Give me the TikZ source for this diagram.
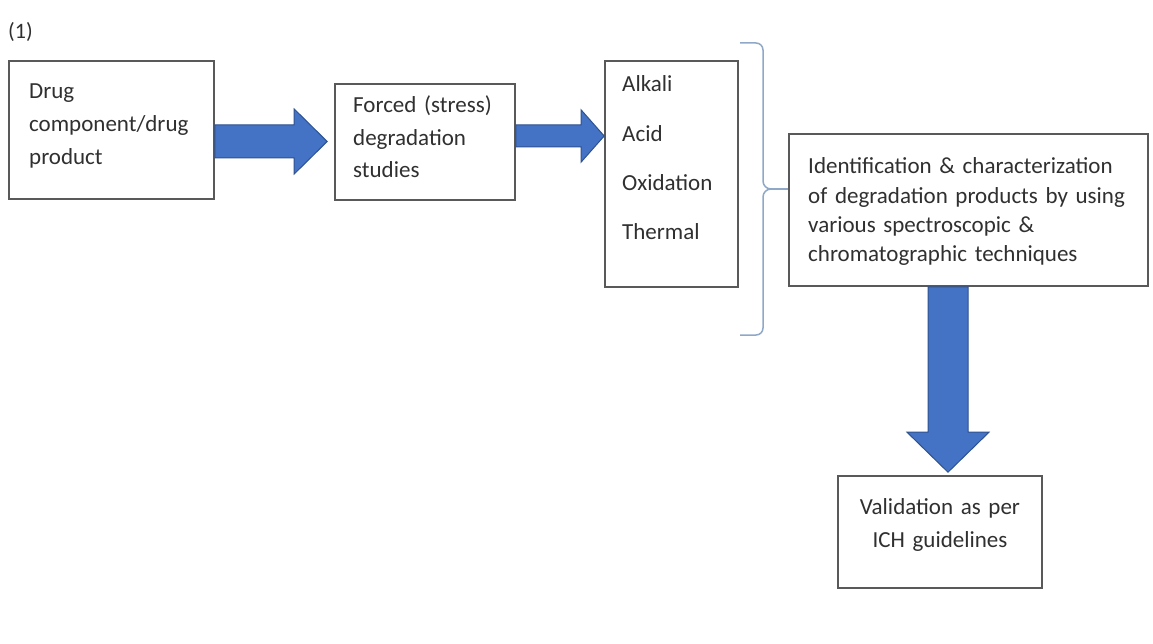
\documentclass[tikz,border=0pt]{standalone}
\usepackage{fontspec}
\setmainfont{Carlito}
\usetikzlibrary{calc}
\definecolor{boxline}{HTML}{595959}
\definecolor{txtcol}{HTML}{303030}
\definecolor{arrfill}{HTML}{4472C4}
\definecolor{arrline}{HTML}{2F528F}
\definecolor{bracecol}{HTML}{8FA8C8}
\newcommand\blockR[5]{% start, tip, half body, half head, head length
  \draw[blockarrow] let \p1=#1, \p2=#2 in
    (\x1,\y1+#3) -- (\x2-#5,\y1+#3) -- (\x2-#5,\y1+#4) -- (\x2,\y1)
    -- (\x2-#5,\y1-#4) -- (\x2-#5,\y1-#3) -- (\x1,\y1-#3) -- cycle;}
\newcommand\blockD[5]{% start, tip, half body, half head, head length
  \draw[blockarrow] let \p1=#1, \p2=#2 in
    (\x1-#3,\y1) -- (\x1-#3,\y2+#5) -- (\x1-#4,\y2+#5) -- (\x1,\y2)
    -- (\x1+#4,\y2+#5) -- (\x1+#3,\y2+#5) -- (\x1+#3,\y1) -- cycle;}
\begin{document}
\begin{tikzpicture}[x=1pt,y=1pt,
  box/.style={draw=boxline, line width=1.6pt, fill=white, inner sep=0pt},
  txt/.style={inner sep=0pt, text=txtcol, align=left, anchor=base west},
  blockarrow/.style={fill=arrfill, draw=arrline, line width=1pt, line join=miter},
  brace/.style={draw=bracecol, line width=1.5pt, line join=round}]
\useasboundingbox[fill=white] (0,0) rectangle (1153,-644);

\node[txt, font=\fontsize{22}{26}\selectfont] (lab) at (8,-39) {(1)};

\node[box, minimum width=205pt, minimum height=138pt] (b1) at (111.5,-130) {};
\node[box, minimum width=180pt, minimum height=116pt] (b2) at (425,-142) {};
\node[box, minimum width=133pt, minimum height=226pt] (b3) at (671.5,-174) {};
\node[box, minimum width=359pt, minimum height=152pt] (b4) at (968.5,-210) {};
\node[box, minimum width=204pt, minimum height=112pt] (b5) at (940,-532) {};

\node[txt, text width=180pt, font=\fontsize{23}{33}\selectfont] (t1) at (29,-99)
  {Drug\\component/drug\\product};
\node[txt, text width=160pt, font=\fontsize{23}{32.5}\selectfont] (t2) at (353,-113)
  {Forced (stress)\\degradation\\studies};
\node[txt, text width=110pt, font=\fontsize{23}{49.3}\selectfont] (t3) at (622,-92)
  {Alkali\\Acid\\Oxidation\\Thermal};
\node[txt, text width=340pt, font=\fontsize{23}{29.3}\selectfont] (t4) at (808,-174)
  {Identification \& characterization\\of degradation products by using\\various spectroscopic \&\\chromatographic techniques};
\node[txt, text width=200pt, align=center, anchor=base, font=\fontsize{23}{33}\selectfont] (t5) at (940,-514)
  {Validation as per\\ICH guidelines};

% block arrows
\coordinate (a1s) at ($(b1.east)+(0,-11.5)$);
\coordinate (a1t) at ($(b2.west)+(-7,0)$);
\blockR{(a1s)}{(a1t)}{16.5pt}{32.5pt}{33pt}
\coordinate (a2s) at ($(b2.east)+(0,6)$);
\coordinate (a2t) at (b3.west);
\blockR{(a2s)}{(a2t)}{11pt}{26pt}{23pt}
\coordinate (a3s) at ($(b4.south)+(-20.5,0)$);
\coordinate (a3t) at ($(b5.north)+(0,3)$);
\blockD{(a3s)}{(a3t)}{20pt}{41pt}{40pt}

% brace
\coordinate (btip) at (771,-189);
\draw[brace] (740,-43) -- (756,-43) to[out=0,in=90] (763,-50) -- (763,-181)
  to[out=-90,in=180] (btip) to[out=180,in=90] (763,-197) -- (763,-328)
  to[out=-90,in=0] (756,-335) -- (740,-335);
\draw[brace] (btip) -- (b4.west |- btip);
\end{tikzpicture}
\end{document}
